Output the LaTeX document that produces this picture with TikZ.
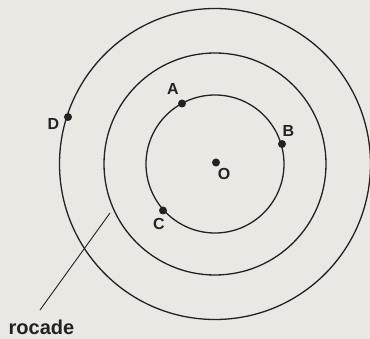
\documentclass[tikz,border=0pt]{standalone}
\usepackage{fontspec}
\setmainfont{Liberation Sans}
\definecolor{paper}{RGB}{234,232,227}
\definecolor{ink}{RGB}{35,33,33}
\begin{document}
\begin{tikzpicture}[x=1pt,y=-1pt,
  ring/.style={draw=ink,line width=1.3pt},
  dot/.style={circle,fill=ink,inner sep=0pt,minimum size=8pt},
  lab/.style={text=ink,font=\bfseries\fontsize{16}{16}\selectfont,inner sep=0pt},
  biglab/.style={text=ink,font=\bfseries\fontsize{20}{20}\selectfont,inner sep=0pt}]
\fill[paper] (0,0) rectangle (370,339);
\useasboundingbox (0,0) rectangle (370,339);
\coordinate (c) at (215,164);
\draw[ring] (c) circle[radius=69pt];
\draw[ring] (c) circle[radius=111pt];
\draw[ring] (c) circle[radius=155.5pt];
\node[dot] (O) at (216,162.5) {};
\node[dot] (A) at (182,103.5) {};
\node[dot] (B) at (282,144) {};
\node[dot] (C) at (163,210.5) {};
\node[dot] (D) at (68,117) {};
\node[lab] (lO) at (224,174) {O};
\node[lab] (lA) at (173,89) {A};
\node[lab] (lB) at (288.5,131) {B};
\node[lab] (lC) at (159,224) {C};
\node[lab] (lD) at (53.5,123.5) {D};
\node[biglab,anchor=base] (roc) at (41.5,335) {rocade};
\coordinate (r1) at (110,213);
\coordinate (r2) at (40,310);
\draw[draw=ink,line width=0.9pt] (r1) -- (r2);
\end{tikzpicture}
\end{document}
